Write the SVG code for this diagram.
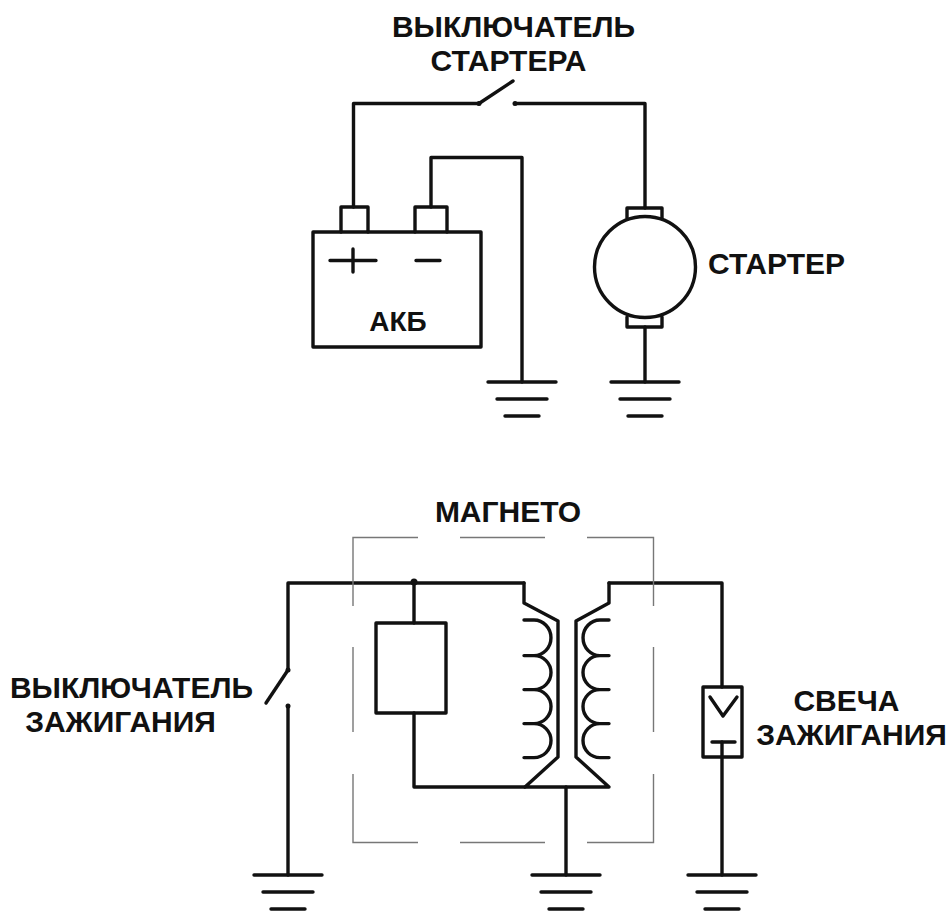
<svg xmlns="http://www.w3.org/2000/svg" width="950" height="916" viewBox="0 0 950 916">
<style>
.w{fill:none;stroke:#111;stroke-width:3.4;stroke-linecap:round;stroke-linejoin:round}
.d{fill:none;stroke:#777;stroke-width:1.4}
.t{font-family:"Liberation Sans",Arial,sans-serif;font-weight:700;font-size:30px;fill:#111;text-anchor:middle}
</style>
<defs>
<g id="gnd"><path class="w" d="M-34 0H34M-25 17H25M-17 34H17"/></g>
</defs>
<rect width="950" height="916" fill="#fff"/>
<g id="connectors">
<path class="w" d="M353.500 207V103.500H479"/>
<path class="w" d="M515 103.500H645V208"/>
<path class="w" d="M431 207V157.500H522V382"/>
<path class="w" d="M645 327V382"/>
<path class="w" d="M524 583H288V670"/>
<path class="w" d="M288 706V875"/>
<path class="w" d="M414 583V623M414 713V787H525"/>
<path class="w" d="M609 583H722V687"/>
<path class="w" d="M722 742V875"/>
<path class="w" d="M566 787V875"/>
</g>
<g id="starter-switch"><path class="w" d="M479 103.500L513 81"/><circle cx="479" cy="103.500" r="2.500" fill="#111"/><circle cx="515" cy="103.500" r="2.500" fill="#111"/>
<text class="t" x="513.500" y="37">ВЫКЛЮЧАТЕЛЬ</text><text class="t" x="508.500" y="71">СТАРТЕРА</text></g>
<g id="battery">
<path class="w" d="M341 232V207H368V232M415 232V207H447V232"/>
<rect class="w" x="313" y="232" width="168" height="115"/>
<path class="w" d="M330 260.500H376M353 249V272M416 260.500H440"/>
<text class="t" x="398" y="331" style="font-size:28px">АКБ</text>
</g>
<g id="starter">
<path class="w" d="M627 218V208H662V218M627 317V327H662V317"/>
<circle class="w" cx="645" cy="267" r="50.500" fill="#fff"/>
<text class="t" x="776.500" y="274">СТАРТЕР</text>
</g>
<g id="ground-1"><use href="#gnd" x="522" y="382"/></g>
<g id="ground-2"><use href="#gnd" x="645" y="382"/></g>
<g id="magneto">
<text class="t" x="508" y="522">МАГНЕТО</text>
<path class="d" d="M353 606V537.500H418M460 537.500H545M587 537.500H653.500V606M353 647V732M653.500 647V732M353 774V842.500H418M460 842.500H545M587 842.500H653.500V774"/>
<circle cx="414" cy="582" r="3.500" fill="#111"/>
<rect class="w" x="376" y="623" width="70" height="90"/>
<path class="w" d="M524 583V603L558 621V757L525 787H609L576 757V621L609 603V583"/>
<path class="w" d="M524 620H534A17 17.800 0 0 1 534 655.600H524M534 655.600A17 17 0 0 1 534 689.600H524M534 689.600A17 17 0 0 1 534 723.600H524M534 723.600A17 17 0 0 1 534 757.600H524"/>
<path class="w" d="M609 620H600A17 17.800 0 0 0 600 655.600H609M600 655.600A17 17 0 0 0 600 689.600H609M600 689.600A17 17 0 0 0 600 723.600H609M600 723.600A17 17 0 0 0 600 757.600H609"/>
</g>
<g id="ignition-switch"><path class="w" d="M288 670L266 703"/><circle cx="288" cy="670" r="2.500" fill="#111"/><circle cx="288" cy="706" r="2.500" fill="#111"/>
<text class="t" x="131.500" y="698">ВЫКЛЮЧАТЕЛЬ</text><text class="t" x="120.500" y="732">ЗАЖИГАНИЯ</text></g>
<g id="spark-plug">
<rect class="w" x="703" y="687" width="39" height="70"/>
<path class="w" d="M710 697L723 716L737 697M712 742H735"/>
<text class="t" x="846.500" y="711">СВЕЧА</text><text class="t" x="851.500" y="745">ЗАЖИГАНИЯ</text>
</g>
<g id="ground-3"><use href="#gnd" x="288" y="875"/></g>
<g id="ground-4"><use href="#gnd" x="566" y="875"/></g>
<g id="ground-5"><use href="#gnd" x="722" y="875"/></g>
</svg>
